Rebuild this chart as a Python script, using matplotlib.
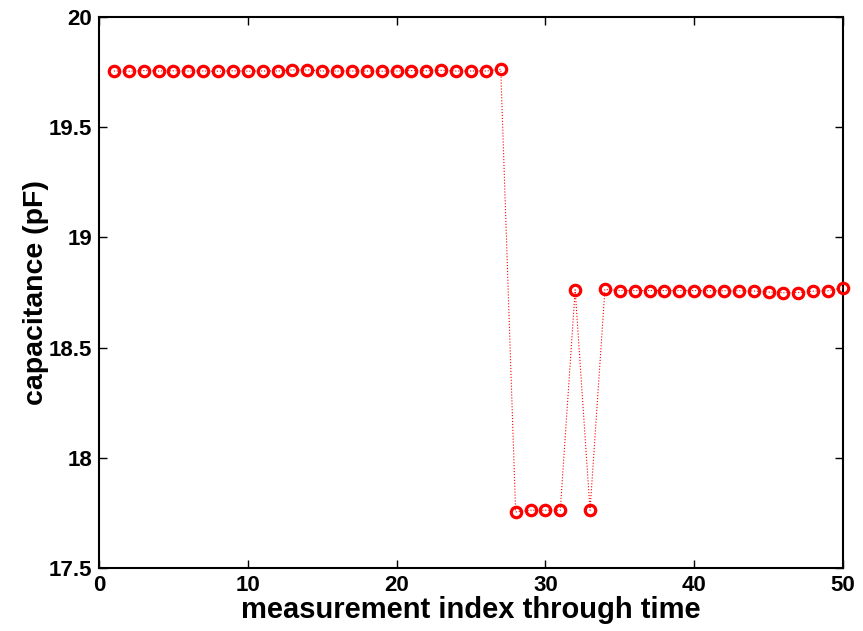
import matplotlib
matplotlib.use("Agg")
import matplotlib.pyplot as plt

plt.rcParams['font.family'] = ['Liberation Sans', 'DejaVu Sans']

# measurement index and measured capacitance (pF)
index = list(range(1, 51))
capacitance = [
    19.755, 19.754, 19.757, 19.755, 19.756, 19.755, 19.755, 19.754, 19.756, 19.754,
    19.755, 19.755, 19.760, 19.760, 19.755, 19.755, 19.755, 19.755, 19.754, 19.755,
    19.757, 19.756, 19.758, 19.755, 19.755, 19.755, 19.763, 17.754, 17.762, 17.762,
    17.762, 18.762, 17.762, 18.764, 18.759, 18.759, 18.759, 18.759, 18.759, 18.759,
    18.758, 18.758, 18.758, 18.757, 18.752, 18.749, 18.750, 18.756, 18.758, 18.772,
]

x_ticks = [0, 10, 20, 30, 40, 50]
y_ticks = [17.5, 18, 18.5, 19, 19.5, 20]
y_tick_labels = ['17.5', '18', '18.5', '19', '19.5', '20']

fig = plt.figure(figsize=(8.63, 6.31), dpi=100)
ax = fig.add_axes([99 / 863, 1 - 568 / 631, (843 - 99) / 863, (568 - 17) / 631])

ax.plot(index, capacitance, linestyle=':', color='red', linewidth=0.8,
        marker='o', markersize=7.5, markerfacecolor='none',
        markeredgecolor='red', markeredgewidth=2.3, clip_on=False, zorder=3)

ax.set_xlim(0, 50)
ax.set_ylim(17.5, 20)
ax.set_xticks(x_ticks)
ax.set_yticks(y_ticks)
ax.set_yticklabels(y_tick_labels)

ax.tick_params(direction='in', length=6, width=1, top=True, right=True,
               labelsize=16, pad=5)
for lbl in ax.get_xticklabels() + ax.get_yticklabels():
    lbl.set_fontweight('bold')
for s in ax.spines.values():
    s.set_linewidth(1.5)

ax.set_xlabel('measurement index through time', fontsize=21, fontweight='bold', labelpad=0)
ax.set_ylabel('capacitance (pF)', fontsize=20.5, fontweight='bold', labelpad=0)

fig.savefig('out.png', dpi=100)
